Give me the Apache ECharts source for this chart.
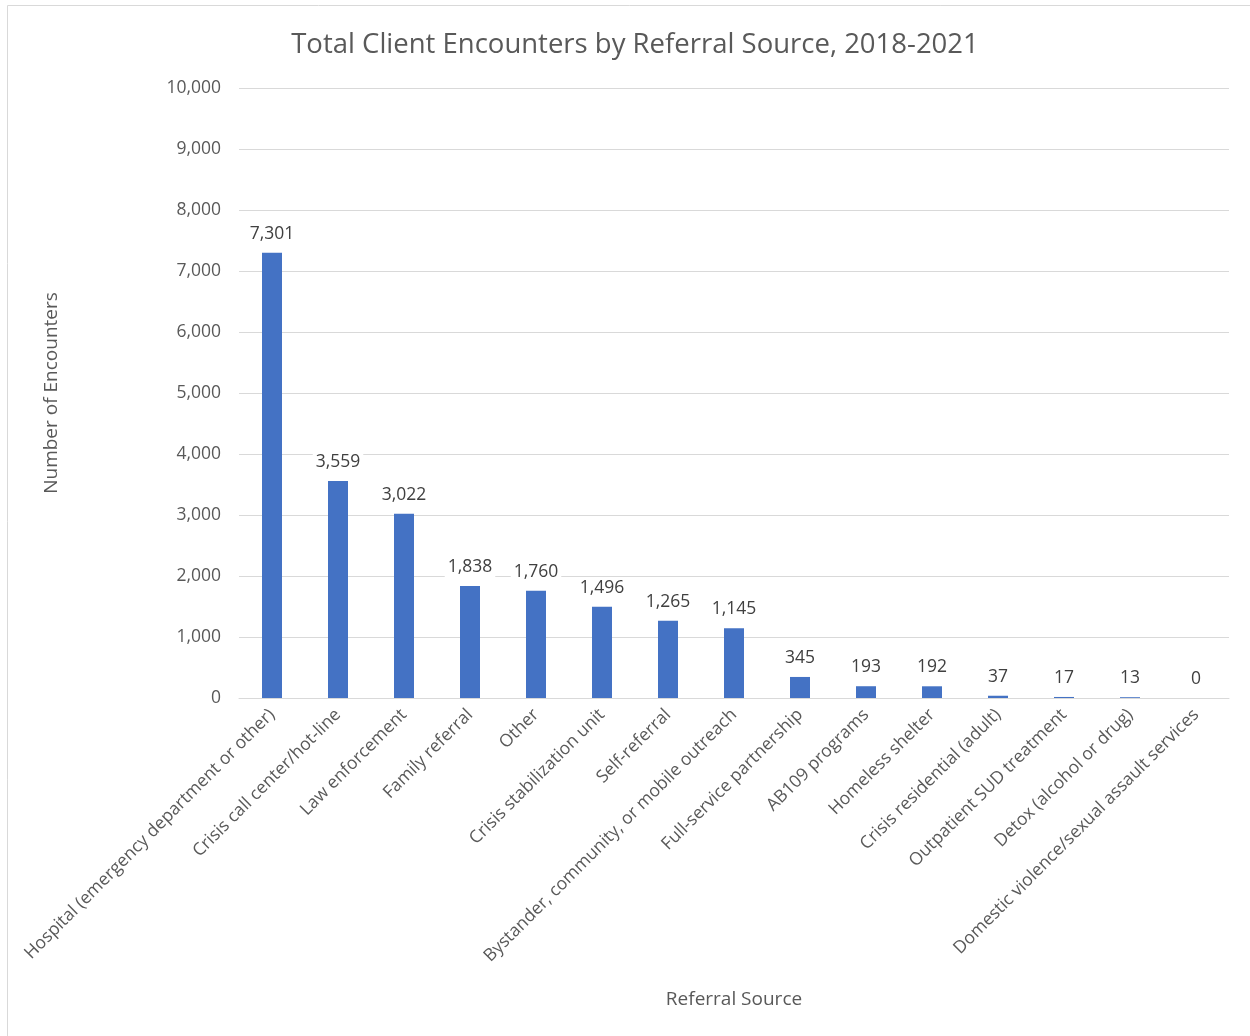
<!DOCTYPE html>
<html lang="en">
<head>
<meta charset="UTF-8">
<title>Total Client Encounters by Referral Source</title>
<style>
  html, body { margin: 0; height: 100%; background: #ffffff; }
  #chart { width: 1250px; height: 1036px; }
</style>
</head>
<body>
<div id="chart"></div>
<script src="https://cdn.jsdelivr.net/npm/echarts@6/dist/echarts.min.js"></script>
<script>
var categories = [
  'Hospital (emergency department or other)',
  'Crisis call center/hot-line',
  'Law enforcement',
  'Family referral',
  'Other',
  'Crisis stabilization unit',
  'Self-referral',
  'Bystander, community, or mobile outreach',
  'Full-service partnership',
  'AB109 programs',
  'Homeless shelter',
  'Crisis residential (adult)',
  'Outpatient SUD treatment',
  'Detox (alcohol or drug)',
  'Domestic violence/sexual assault services'
];
var encounters = [7301, 3559, 3022, 1838, 1760, 1496, 1265, 1145, 345, 193, 192, 37, 17, 13, 0];

var font = '"Open Sans", "Liberation Sans", sans-serif';
var grey = '#595959';

var chart = echarts.init(document.getElementById('chart'));
chart.setOption({
  animation: false,
  textStyle: { fontFamily: font },
  title: {
    text: 'Total Client Encounters by Referral Source, 2018-2021',
    left: 630,
    textAlign: 'center',
    top: 26,
    textStyle: { fontFamily: font, fontSize: 27.5, fontWeight: 'normal', color: grey }
  },
  graphic: [{
    type: 'rect',
    shape: { x: 7.5, y: 5.5, width: 1260, height: 1040 },
    style: { fill: 'none', stroke: '#d9d9d9', lineWidth: 1 },
    silent: true
  }],
  grid: { left: 239, right: 21, top: 88, bottom: 338, containLabel: false },
  xAxis: {
    type: 'category',
    data: categories,
    name: 'Referral Source',
    nameLocation: 'middle',
    nameGap: 292,
    nameTextStyle: { fontFamily: font, fontSize: 19, color: grey },
    axisLine: { lineStyle: { color: '#d9d9d9' } },
    axisTick: { show: false },
    axisLabel: { rotate: 45, interval: 0, fontSize: 17.5, color: grey, margin: 14 }
  },
  yAxis: {
    type: 'value',
    min: 0,
    max: 10000,
    interval: 1000,
    name: 'Number of Encounters',
    nameLocation: 'middle',
    nameGap: 178,
    nameRotate: 90,
    nameTextStyle: { fontFamily: font, fontSize: 19, color: grey },
    axisLine: { show: false },
    axisTick: { show: false },
    splitLine: { lineStyle: { color: '#d9d9d9' } },
    axisLabel: {
      fontSize: 17.5, color: grey, margin: 18,
      formatter: function (v) { return v.toLocaleString('en-US'); }
    }
  },
  series: [{
    type: 'bar',
    data: encounters,
    barWidth: 20,
    itemStyle: { color: '#4472C4' },
    label: {
      show: true,
      position: 'top',
      distance: 9,
      fontSize: 17.5,
      color: '#404040',
      backgroundColor: '#ffffff',
      padding: [1, 3],
      formatter: function (p) { return p.value.toLocaleString('en-US'); }
    }
  }]
});
</script>
</body>
</html>
